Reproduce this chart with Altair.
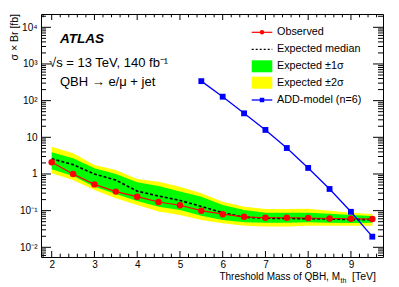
import altair as alt
import pandas as pd

# ---------------- data ----------------
mass = [2.0, 2.5, 3.0, 3.5, 4.0, 4.5, 5.0, 5.5, 6.0, 6.5, 7.0, 7.5, 8.0, 8.5, 9.0, 9.5]
observed = [2.08, 1.0, 0.52, 0.33, 0.24, 0.172, 0.14, 0.10, 0.080, 0.068, 0.064, 0.064, 0.063, 0.061, 0.060, 0.059]
expected = [2.6, 1.8, 1.0, 0.68, 0.34, 0.25, 0.19, 0.13, 0.088, 0.066, 0.062, 0.061, 0.060, 0.059, 0.057, 0.057]
exp_1s_hi = [3.9, 2.68, 1.43, 1.0, 0.59, 0.47, 0.33, 0.24, 0.143, 0.104, 0.088, 0.088, 0.088, 0.082, 0.076, 0.0715]
exp_1s_lo = [1.34, 0.88, 0.45, 0.284, 0.183, 0.128, 0.104, 0.0728, 0.0556, 0.048, 0.047, 0.047, 0.048, 0.047, 0.046, 0.047]
exp_2s_hi = [5.55, 3.66, 1.76, 1.28, 0.73, 0.616, 0.45, 0.30, 0.175, 0.128, 0.111, 0.111, 0.113, 0.10, 0.088, 0.0805]
exp_2s_lo = [1.04, 0.685, 0.366, 0.217, 0.143, 0.094, 0.076, 0.0556, 0.0452, 0.039, 0.037, 0.037, 0.039, 0.0385, 0.0385, 0.0385]

add_mass = [5.5, 6.0, 6.5, 7.0, 7.5, 8.0, 8.5, 9.0, 9.5]
add_xsec = [340, 128, 45, 15.9, 5.1, 1.46, 0.39, 0.093, 0.0195]

x_major = [2, 3, 4, 5, 6, 7, 8, 9]
x_minor = [v for v in [round(1.8 + 0.2 * i, 1) for i in range(40)] if v <= 9.75 and abs(v - round(v)) > 1e-6]
y_major = [0.01, 0.1, 1, 10, 100, 1000, 10000]
y_labels = ["10⁻²", "10⁻¹", "1", "10", "10²", "10³", "10⁴"]
y_minor = [m * 10.0 ** k for k in range(-3, 5) for m in range(2, 10) if 0.00544 < m * 10.0 ** k < 23050]

legend_labels = ["Observed", "Expected median", "Expected ±1σ", "Expected ±2σ", "ADD-model (n=6)"]

# ---------------- layout / style ----------------
W, H = 342, 243
FONT = "Liberation Sans"
xscale = alt.Scale(domain=[1.75, 9.75], nice=False, zero=False)
yscale = alt.Scale(type="log", domain=[0.00544, 23050], nice=False)

label_expr = "[" + ",".join(f"'{l}'" for l in y_labels) + "][round(log(datum.value)/LN10)+2]"
xaxis = alt.Axis(values=x_major, ticks=False, domain=False, grid=False, labelFontSize=10,
                 labelFont=FONT, labelColor="black", labelPadding=2, title=None, format="d")
yaxis = alt.Axis(values=y_major, ticks=False, domain=False, grid=False, labelFontSize=10,
                 labelFont=FONT, labelColor="black", labelPadding=4, title=None, labelExpr=label_expr)

df = pd.DataFrame({"mass": mass, "obs": observed, "exp": expected,
                   "hi1": exp_1s_hi, "lo1": exp_1s_lo, "hi2": exp_2s_hi, "lo2": exp_2s_lo})
add_df = pd.DataFrame({"mass": add_mass, "xsec": add_xsec})

X = lambda f: alt.X(f, scale=xscale, axis=xaxis)
Y = lambda f: alt.Y(f, scale=yscale, axis=yaxis)

base = alt.Chart(df)
layers = []
layers.append(base.mark_area(color="#ffff00", opacity=1, interpolate="linear").encode(
    x=X("mass:Q"), y=Y("lo2:Q"), y2="hi2:Q"))
layers.append(base.mark_area(color="#00ff00", opacity=1, interpolate="linear").encode(
    x=X("mass:Q"), y=Y("lo1:Q"), y2="hi1:Q"))
layers.append(base.mark_line(color="black", strokeDash=[3, 2], strokeWidth=1.6).encode(
    x=X("mass:Q"), y=Y("exp:Q")))
layers.append(base.mark_line(color="#ff0000", strokeWidth=1.2).encode(x=X("mass:Q"), y=Y("obs:Q")))
layers.append(base.mark_point(color="#ff0000", filled=True, opacity=1, shape="circle", size=42).encode(
    x=X("mass:Q"), y=Y("obs:Q")))
addc = alt.Chart(add_df)
layers.append(addc.mark_line(color="#0000ff", strokeWidth=1.3).encode(x=X("mass:Q"), y=Y("xsec:Q")))
layers.append(addc.mark_point(color="#0000ff", filled=True, opacity=1, shape="square", size=34).encode(
    x=X("mass:Q"), y=Y("xsec:Q")))

# ---------------- inward ticks on all four sides ----------------
for vals, ln in [(x_major, 6), (x_minor, 3.3)]:
    tdf = alt.Chart(pd.DataFrame({"v": vals}))
    layers.append(tdf.mark_rule(color="black", strokeWidth=1).encode(
        x=X("v:Q"), y=alt.value(H), y2=alt.value(H - ln)))
    layers.append(tdf.mark_rule(color="black", strokeWidth=1).encode(
        x=X("v:Q"), y=alt.value(0), y2=alt.value(ln)))
for vals, ln in [(y_major, 10), (y_minor, 5)]:
    tdf = alt.Chart(pd.DataFrame({"v": vals}))
    layers.append(tdf.mark_rule(color="black", strokeWidth=1).encode(
        y=Y("v:Q"), x=alt.value(0), x2=alt.value(ln)))
    layers.append(tdf.mark_rule(color="black", strokeWidth=1).encode(
        y=Y("v:Q"), x=alt.value(W), x2=alt.value(W - ln)))

one = pd.DataFrame({"a": [0]})


def text(t, x, y, size, align="left", weight="normal", style="normal", angle=0, baseline="middle"):
    kw = dict(text=t, align=align, baseline=baseline, fontSize=size, font=FONT,
              fontWeight=weight, fontStyle=style, color="black")
    if angle:
        kw["angle"] = angle
    return alt.Chart(one).mark_text(**kw).encode(x=alt.value(x), y=alt.value(y))


# annotations
layers.append(text("ATLAS", 19, 25, 13.5, weight="bold", style="italic"))
layers.append(text("√s = 13 TeV, 140 fb⁻¹", 8, 49, 13))
layers.append(text("QBH → e/μ + jet", 19, 68, 13))

# axis titles
layers.append(text("σ × Br [fb]", -26, 0, 10.5, align="right", angle=270))
layers.append(text("Threshold Mass of QBH, M", 299, 263, 10, align="right"))
layers.append(text("th", 299.5, 266.5, 7))
layers.append(text("[TeV]", 311, 263, 10.5))

# legend
LX0, LX1, LXC, LT = 210.7, 231.3, 221, 236
ly = [18.3, 35.3, 52.3, 68.7, 86]
layers.append(alt.Chart(one).mark_rule(color="#ff0000", strokeWidth=1.2).encode(
    x=alt.value(LX0), x2=alt.value(LX1), y=alt.value(ly[0])))
layers.append(alt.Chart(one).mark_point(color="#ff0000", filled=True, opacity=1, shape="circle", size=20).encode(
    x=alt.value(LXC), y=alt.value(ly[0])))
layers.append(alt.Chart(one).mark_rule(color="black", strokeWidth=1.3, strokeDash=[2, 2]).encode(
    x=alt.value(LX0), x2=alt.value(LX1), y=alt.value(ly[1])))
layers.append(alt.Chart(one).mark_rect(color="#00ff00", opacity=1).encode(
    x=alt.value(LX0), x2=alt.value(LX1), y=alt.value(ly[2] - 6), y2=alt.value(ly[2] + 6)))
layers.append(alt.Chart(one).mark_rect(color="#ffff00", opacity=1).encode(
    x=alt.value(LX0), x2=alt.value(LX1), y=alt.value(ly[3] - 6), y2=alt.value(ly[3] + 6)))
layers.append(alt.Chart(one).mark_rule(color="#0000ff", strokeWidth=1.3).encode(
    x=alt.value(LX0), x2=alt.value(LX1), y=alt.value(ly[4])))
layers.append(alt.Chart(one).mark_point(color="#0000ff", filled=True, opacity=1, shape="square", size=20).encode(
    x=alt.value(LXC), y=alt.value(ly[4])))
for lab, yy in zip(legend_labels, ly):
    layers.append(text(lab, LT, yy, 10.8))

chart = alt.layer(*layers).properties(
    width=W, height=H,
    autosize=alt.AutoSizeParams(type="none"),
    padding={"left": 33, "top": 6, "right": 8, "bottom": 29},
    background="white",
).configure_view(stroke="black", strokeWidth=1)

chart.save("out.html", embed_options={"renderer": "svg", "actions": False})
